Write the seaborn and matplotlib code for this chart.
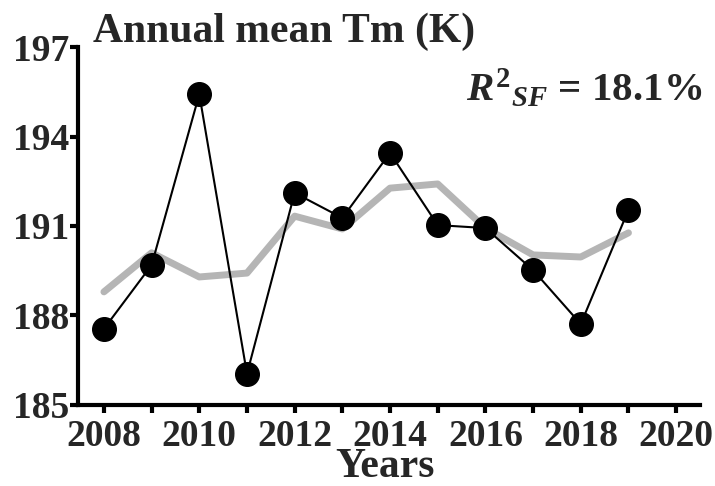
import matplotlib
matplotlib.use("Agg")
import matplotlib.pyplot as plt
import seaborn as sns
import pandas as pd

years = [2008, 2009, 2010, 2011, 2012, 2013, 2014, 2015, 2016, 2017, 2018, 2019]
tm_obs = [187.55, 189.69, 195.42, 186.04, 192.11, 191.27, 193.45, 191.03, 190.93, 189.52, 187.71, 191.54]
tm_fit = [188.79, 190.10, 189.29, 189.42, 191.33, 190.90, 192.27, 192.41, 190.93, 190.03, 189.96, 190.77]
x_ticks = list(range(2008, 2021))
x_labels = [str(y) if y % 2 == 0 else "" for y in x_ticks]
y_ticks = [185, 188, 191, 194, 197]

sns.set_style("ticks")
plt.rcParams['font.family'] = ['Liberation Serif', 'DejaVu Serif']
plt.rcParams['font.weight'] = 'bold'
plt.rcParams['mathtext.fontset'] = 'custom'
plt.rcParams['mathtext.rm'] = 'Liberation Serif:bold'
plt.rcParams['mathtext.it'] = 'Liberation Serif:italic:bold'
plt.rcParams['mathtext.bf'] = 'Liberation Serif:bold'

df = pd.DataFrame({"year": years, "obs": tm_obs, "fit": tm_fit})

fig = plt.figure(figsize=(7.15, 4.86), dpi=100)
ax = fig.add_axes([0.109, 0.167, 0.870, 0.736])

sns.lineplot(data=df, x="year", y="fit", ax=ax, color="#b5b5b5", linewidth=5, zorder=2)
sns.lineplot(data=df, x="year", y="obs", ax=ax, color="black", linewidth=1.5,
             marker="o", markersize=17, markeredgewidth=1, markeredgecolor="black", zorder=3)

ax.set_xlim(2007.455, 2020.5)
ax.set_ylim(185, 197)
ax.set_xticks(x_ticks)
ax.set_xticklabels(x_labels)
ax.set_yticks(y_ticks)
ax.tick_params(axis='both', which='major', direction='out', length=6, width=3,
               labelsize=27, color='black')
ax.tick_params(axis='x', pad=4.5)
ax.tick_params(axis='y', pad=0)
for lab in ax.get_xticklabels() + ax.get_yticklabels():
    lab.set_fontweight('bold')
for s in ['left', 'bottom']:
    ax.spines[s].set_linewidth(3)
    ax.spines[s].set_color('black')
sns.despine(ax=ax)
ax.set_ylabel("")
ax.set_xlabel("Years", fontsize=30, fontweight='bold', va='baseline')
ax.xaxis.set_label_coords(0.494, -0.201)

fig.text(0.130, 0.9136, "Annual mean Tm (K)", fontsize=30, fontweight='bold',
         va='baseline', ha='left')
fig.text(0.983, 0.794, r"$R^{2}{}_{SF}$" + " = 18.1%",
         fontsize=29.5, fontweight='bold', ha='right', va='baseline')

fig.savefig("out.png", dpi=100)
